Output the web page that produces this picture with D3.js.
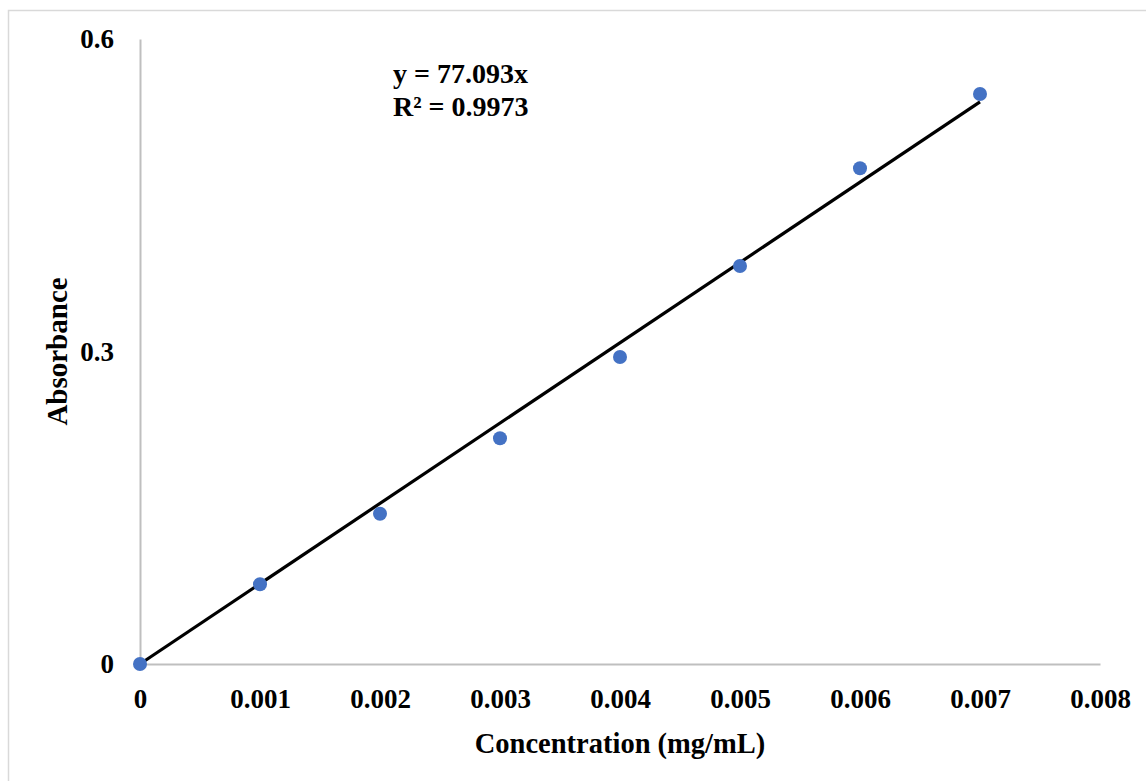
<!DOCTYPE html>
<html>
<head>
<meta charset="utf-8">
<script src="https://cdn.jsdelivr.net/npm/d3@7"></script>
<style>
  html, body { margin: 0; padding: 0; background: #fff; }
  svg { display: block; }
  text { font-family: "Liberation Serif", "Times New Roman", serif; font-weight: bold; fill: #000; }
</style>
</head>
<body>
<svg id="chart" width="1146" height="781"></svg>
<script>
const concentration = [0, 0.001, 0.002, 0.003, 0.004, 0.005, 0.006, 0.007];
const absorbance = [0, 0.0765, 0.1443, 0.2167, 0.2947, 0.3821, 0.4759, 0.5472];
const xTicks = [0, 0.001, 0.002, 0.003, 0.004, 0.005, 0.006, 0.007, 0.008];
const yTicks = [0, 0.3, 0.6];
const slope = 77.093;
const equationLines = ["y = 77.093x", "R² = 0.9973"];
const xTitle = "Concentration (mg/mL)";
const yTitle = "Absorbance";

const svg = d3.select("#chart");
const plotLeft = 140, plotRight = 1100, plotTop = 39, plotBottom = 664;

// outer chart border
svg.append("rect").attr("x", 8.5).attr("y", 10.5).attr("width", 1160).attr("height", 800)
  .attr("fill", "none").attr("stroke", "#d9d9d9").attr("stroke-width", 1.5);

const x = d3.scaleLinear().domain([0, 0.008]).range([plotLeft, plotRight]);
const y = d3.scaleLinear().domain([0, 0.6]).range([plotBottom, plotTop]);

// axes
const xAxis = svg.append("g").attr("transform", `translate(0,${plotBottom})`)
  .call(d3.axisBottom(x).tickValues(xTicks).tickSize(0).tickFormat(d => d === 0 ? "0" : d3.format(".3f")(d)));
xAxis.select(".domain").attr("stroke", "#bfbfbf").attr("stroke-width", 2);
xAxis.selectAll("text").attr("font-size", 27).attr("dy", null).attr("y", 44)
  .style("font-family", "Liberation Serif, serif").style("font-weight", "bold").attr("fill", "#000");

const yAxis = svg.append("g").attr("transform", `translate(${plotLeft},0)`)
  .call(d3.axisLeft(y).tickValues(yTicks).tickSize(0).tickFormat(d => d === 0 ? "0" : d3.format(".1f")(d)));
yAxis.select(".domain").attr("stroke", "#bfbfbf").attr("stroke-width", 2);
yAxis.selectAll("text").attr("font-size", 27).attr("x", -26).attr("dy", "0.33em")
  .style("font-family", "Liberation Serif, serif").style("font-weight", "bold").attr("fill", "#000");

// trendline
const xMax = d3.max(concentration);
svg.append("line")
  .attr("x1", x(0)).attr("y1", y(0))
  .attr("x2", x(xMax)).attr("y2", y(slope * xMax))
  .attr("stroke", "#000").attr("stroke-width", 3.2);

// points
svg.append("g").selectAll("circle")
  .data(concentration.map((c, i) => [c, absorbance[i]]))
  .join("circle")
  .attr("cx", d => x(d[0])).attr("cy", d => y(d[1])).attr("r", 7)
  .attr("fill", "#4472c4");

// equation label
svg.append("g").selectAll("text").data(equationLines).join("text")
  .attr("x", 393).attr("y", (d, i) => 83 + i * 33)
  .attr("font-size", 28).text(d => d);

// axis titles
svg.append("text").attr("x", (plotLeft + plotRight) / 2).attr("y", 753)
  .attr("text-anchor", "middle").attr("font-size", 28.5).text(xTitle);

svg.append("text").attr("transform", `translate(67,${(plotTop + plotBottom) / 2}) rotate(-90)`)
  .attr("text-anchor", "middle").attr("font-size", 29).text(yTitle);
</script>
</body>
</html>
